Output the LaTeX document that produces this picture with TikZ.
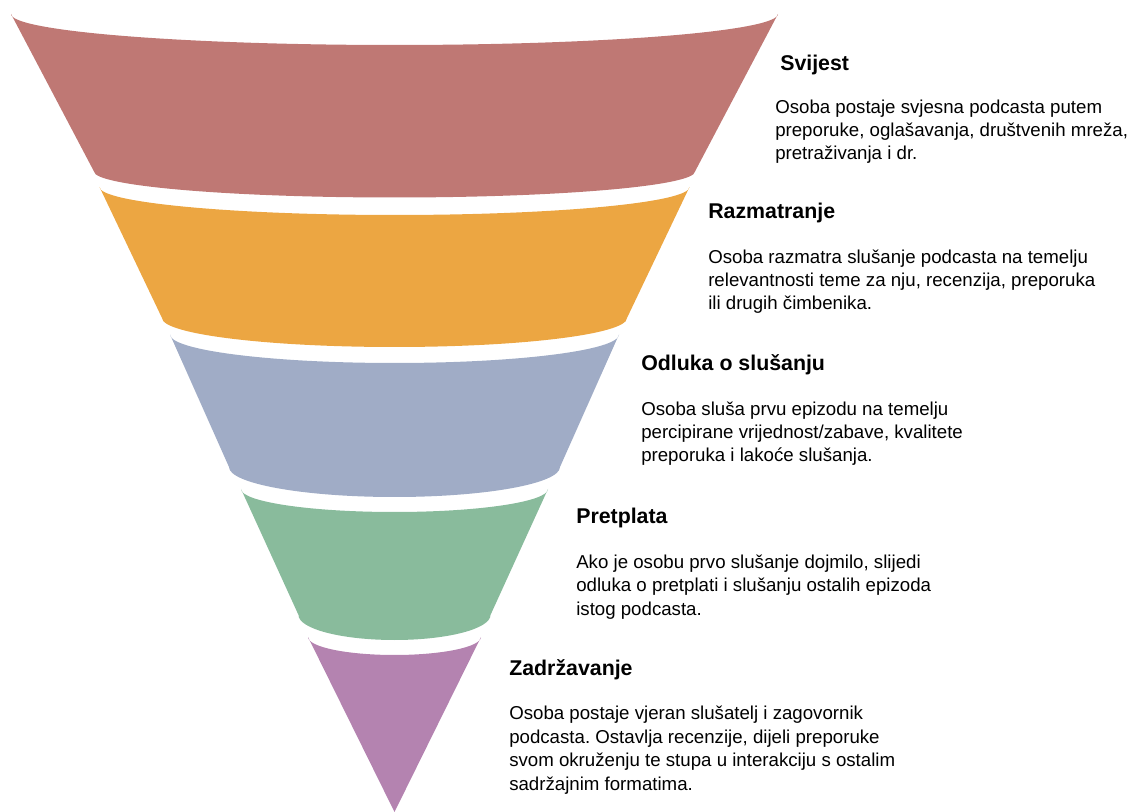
\documentclass[tikz,border=0pt]{standalone}
\usepackage{fontspec}
\setmainfont{Liberation Sans}
\frenchspacing
\definecolor{svijest}{HTML}{BF7874}
\definecolor{razmatranje}{HTML}{ECA642}
\definecolor{odluka}{HTML}{A0ACC6}
\definecolor{pretplata}{HTML}{89BB9C}
\definecolor{zadrzavanje}{HTML}{B483B0}
\begin{document}
\begin{tikzpicture}[
        x=0.75pt, y=0.75pt,
        stage/.style={anchor=base west, inner sep=0pt, font=\fontsize{16}{19}\selectfont\bfseries},
        info/.style={anchor=base west, inner sep=0pt, align=left, font=\fontsize{14}{17.55}\selectfont}
    ]
    \useasboundingbox (0,0) rectangle (1132,-812);
    \def\cx{394.5} % axis of the funnel

    % Bands: top y / top half width / top sag / bottom y / bottom half width / bottom sag
    \foreach \yt/\wt/\st/\yb/\wb/\sb/\col in {
        14/383.5/31/171.5/300.5/26/svijest,
        187/295/28/318/232.5/29/razmatranje,
        334.5/224.5/28.5/467/165.5/30/odluka,
        489/153.5/23/615/96/25/pretplata} {
        \fill[\col] (\cx-\wt,-\yt)
            arc[start angle=180, end angle=360, x radius=\wt, y radius=\st]
            -- (\cx+\wb,-\yb)
            arc[start angle=0, end angle=-180, x radius=\wb, y radius=\sb]
            -- cycle;
    }
    % Last band ends in the tip
    \fill[zadrzavanje] (\cx-86.5,-637)
        arc[start angle=180, end angle=360, x radius=86.5, y radius=18]
        -- (\cx,-812) -- cycle;

    % Stage titles; descriptions sit on the baseline of their last line
    \node[stage] (s1) at (780,-71) {Svijest};
    \node[info] (i1) at (775,-160) {Osoba postaje svjesna podcasta putem\\preporuke, oglašavanja, društvenih mreža,\\pretraživanja i dr.};
    \node[stage] (s2) at (708,-219) {Razmatranje};
    \node[info] (i2) at (708,-310) {Osoba razmatra slušanje podcasta na temelju\\relevantnosti teme za nju, recenzija, preporuka\\ili drugih čimbenika.};
    \node[stage] (s3) at (641,-371) {Odluka o slušanju};
    \node[info] (i3) at (641,-462) {Osoba sluša prvu epizodu na temelju\\percipirane vrijednost/zabave, kvalitete\\preporuka i lakoće slušanja.};
    \node[stage] (s4) at (576,-524) {Pretplata};
    \node[info] (i4) at (576,-615) {Ako je osobu prvo slušanje dojmilo, slijedi\\odluka o pretplati i slušanju ostalih epizoda\\istog podcasta.};
    \node[stage] (s5) at (509,-675) {Zadržavanje};
    \node[info] (i5) at (509,-790) {Osoba postaje vjeran slušatelj i zagovornik\\podcasta. Ostavlja recenzije, dijeli preporuke\\svom okruženju te stupa u interakciju s ostalim\\sadržajnim formatima.};
\end{tikzpicture}
\end{document}
